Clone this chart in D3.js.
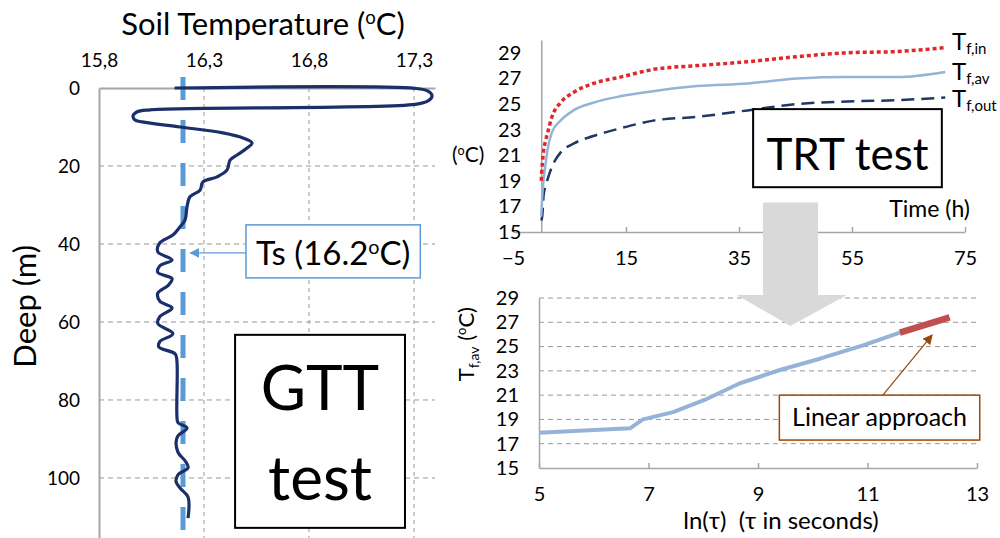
<!DOCTYPE html>
<html>
<head>
<meta charset="utf-8">
<script src="https://cdn.jsdelivr.net/npm/d3@7"></script>
<style>
  body { margin: 0; background: #fff; }
  svg { display: block; }
  text { font-family: Lato, "Open Sans", sans-serif; fill: #000; }
</style>
</head>
<body>
<svg id="fig" width="1000" height="538"></svg>
<script>
// ---- GTT: soil temperature profile along the borehole ----
const gttTicksX = [15.8, 16.3, 16.8, 17.3];
const gttTicksY = [0, 20, 40, 60, 80, 100];
const gttTemp = [16.16, 17.305, 17.367, 17.386, 17.367, 17.305, 16.043, 15.98, 15.962, 15.971, 16.005,
  16.186, 16.39, 16.486, 16.529, 16.505, 16.457, 16.424, 16.41, 16.362, 16.295, 16.281, 16.233, 16.219,
  16.21, 16.186, 16.152, 16.09, 16.08, 16.148, 16.09, 16.08, 16.148, 16.13, 16.08, 16.09, 16.148, 16.09,
  16.08, 16.152, 16.09, 16.085, 16.163, 16.171, 16.171, 16.176, 16.219, 16.176, 16.167, 16.176, 16.214,
  16.224, 16.176, 16.167, 16.186, 16.224, 16.224];
const gttDepth = [0, 0.1, 0.8, 2.05, 3.3, 4.2, 5.6, 6.15, 7.2, 8.2, 8.7,
  10.0, 11.5, 12.8, 14.1, 15.4, 17.2, 18.5, 21.0, 22.8, 24.1, 26.2, 27.9, 30.5,
  33.8, 35.6, 37.7, 39.7, 42.0, 44.1, 45.6, 47.3, 48.9, 50.6, 52.6, 54.7, 56.4, 58.6,
  60.4, 63.0, 65.0, 66.4, 68.2, 70.0, 84.0, 85.8, 87.2, 89.2, 90.8, 93.4, 95.9,
  97.4, 99.2, 101.0, 102.6, 104.9, 110.3];
const tsValue = 16.2;

// ---- TRT: fluid temperatures during the response test ----
const trtTicksX = [-5, 15, 35, 55, 75];
const trtTicksY = [15, 17, 19, 21, 23, 25, 27, 29];
const trtTime = [0, 0.2, 0.4, 0.7, 1.1, 1.9, 3.4, 5.7, 9.2, 14, 19.8, 27.6, 36.5, 45.3, 54.2, 63, 71.5];
const trtIn  = [19.0, 20.4, 21.3, 22.0, 22.7, 24.0, 25.1, 25.9, 26.6, 27.1, 27.7, 28.0, 28.3, 28.7, 29.0, 29.1, 29.4];
const trtAv  = [16.2, 18.0, 19.0, 20.1, 21.4, 22.8, 23.7, 24.5, 25.1, 25.6, 26.0, 26.4, 26.6, 27.0, 27.1, 27.1, 27.5];
const trtOut = [15.9, 16.3, 17.8, 18.5, 19.1, 20.1, 21.2, 21.9, 22.5, 23.1, 23.7, 24.0, 24.5, 25.0, 25.2, 25.3, 25.5];

// ---- Mean fluid temperature against ln(time) ----
const lnTicksX = [5, 7, 9, 11, 13];
const lnTicksY = [15, 17, 19, 21, 23, 25, 27, 29];
const lnTau  = [5.0, 6.66, 6.9, 7.45, 8.07, 8.67, 9.4, 10.13, 10.92, 11.59];
const lnTfav = [17.9, 18.27, 19.0, 19.6, 20.7, 21.98, 23.07, 24.0, 25.1, 26.14];
const linTau  = [11.59, 12.5];
const linTfav = [26.14, 27.4];

const svg = d3.select("#fig");
const AXIS = "#a6a6a6", GRID = "#9a9a9a";

// arrowhead markers
const defs = svg.append("defs");
function marker(id, color) {
  defs.append("marker").attr("id", id).attr("viewBox", "0 0 10 10")
    .attr("refX", 9).attr("refY", 5).attr("markerWidth", 10).attr("markerHeight", 10)
    .attr("markerUnits", "userSpaceOnUse").attr("orient", "auto")
    .append("path").attr("d", "M0,0 L10,5 L0,10 z").attr("fill", color);
}
marker("arrBlue", "#5b9bd5");
marker("arrBrown", "#984807");

// text with a superscript "o" before C
function degree(sel, before, size, after) {
  sel.append("tspan").text(before);
  sel.append("tspan").attr("font-size", size * 0.6).attr("dy", -size * 0.36).text("o");
  sel.append("tspan").attr("dy", size * 0.36).text(after);
}

/* ================= GTT panel ================= */
const xG = d3.scaleLinear().domain([15.8, 17.4]).range([99, 435]);
const yG = d3.scaleLinear().domain([0, 115.4]).range([88, 538]);

const gG = svg.append("g");
// grid
gG.append("g").selectAll("line").data(gttTicksX.slice(1)).join("line")
  .attr("x1", d => xG(d)).attr("x2", d => xG(d)).attr("y1", yG(0)).attr("y2", yG(115.4))
  .attr("stroke", GRID).attr("stroke-width", 1).attr("stroke-dasharray", "4,4");
gG.append("g").selectAll("line").data(gttTicksY.slice(1)).join("line")
  .attr("x1", xG(15.8)).attr("x2", xG(17.4)).attr("y1", d => yG(d)).attr("y2", d => yG(d))
  .attr("stroke", GRID).attr("stroke-width", 1).attr("stroke-dasharray", "5,4");

// axes
const axTop = gG.append("g").attr("transform", `translate(0,${yG(0)})`)
  .call(d3.axisTop(xG).tickValues(gttTicksX).tickSize(0).tickPadding(21)
    .tickFormat(d => d3.format(".1f")(d).replace(".", ",")));
const axLeft = gG.append("g").attr("transform", `translate(${xG(15.8)},0)`)
  .call(d3.axisLeft(yG).tickValues(gttTicksY).tickSize(0).tickPadding(19));
[axTop, axLeft].forEach(a => {
  a.select(".domain").attr("stroke", AXIS).attr("stroke-width", 2);
  a.selectAll("text").attr("font-family", "Lato, sans-serif").attr("font-size", 19).attr("fill", "#222");
});

// Ts line
gG.append("line").attr("x1", xG(tsValue)).attr("x2", xG(tsValue))
  .attr("y1", yG(-2.8)).attr("y2", yG(115.4))
  .attr("stroke", "#5b9bd5").attr("stroke-width", 5).attr("stroke-dasharray", "23,20");

// profile
const gttPts = gttTemp.map((t, i) => ({ t, d: gttDepth[i] }));
gG.append("path").datum(gttPts)
  .attr("d", d3.line().x(p => xG(p.t)).y(p => yG(p.d)).curve(d3.curveCatmullRom.alpha(0.5)))
  .attr("fill", "none").attr("stroke", "#1b2f6b").attr("stroke-width", 3.2)
  .attr("stroke-linejoin", "round");

// titles
degree(svg.append("text").attr("x", 263).attr("y", 35).attr("text-anchor", "middle")
  .attr("font-size", 31), "Soil Temperature (", 31, "C)");
svg.append("text").attr("transform", `translate(36,${yG(56)}) rotate(-90)`)
  .attr("text-anchor", "middle").attr("font-size", 31).text("Deep (m)");

// Ts callout
gG.append("rect").attr("x", xG(16.5)).attr("y", yG(35.1))
  .attr("width", xG(17.33) - xG(16.5)).attr("height", yG(48.7) - yG(35.1))
  .attr("fill", "#fff").attr("stroke", "#5b9bd5").attr("stroke-width", 1.5);
gG.append("line").attr("x1", xG(16.5)).attr("y1", yG(42.3)).attr("x2", xG(16.235)).attr("y2", yG(42.3))
  .attr("stroke", "#5b9bd5").attr("stroke-width", 1.2).attr("marker-end", "url(#arrBlue)");
degree(gG.append("text").attr("x", (xG(16.5) + xG(17.33)) / 2).attr("y", yG(45.5))
  .attr("text-anchor", "middle").attr("font-size", 33), "Ts (16.2", 33, "C)");

// GTT box
gG.append("rect").attr("x", xG(16.448)).attr("y", yG(63.3))
  .attr("width", xG(17.257) - xG(16.448)).attr("height", yG(112.8) - yG(63.3))
  .attr("fill", "#fff").attr("stroke", "#000").attr("stroke-width", 2);
gG.append("text").attr("x", (xG(16.448) + xG(17.257)) / 2).attr("y", 410)
  .attr("text-anchor", "middle").attr("font-size", 62).text("GTT");
gG.append("text").attr("x", (xG(16.448) + xG(17.257)) / 2).attr("y", 500)
  .attr("text-anchor", "middle").attr("font-size", 62).text("test");

/* ================= TRT panel ================= */
const xT = d3.scaleLinear().domain([-5, 75]).range([513, 965]);
const yT = d3.scaleLinear().domain([15, 30]).range([232, 40]);
const gT = svg.append("g");

const axTB = gT.append("g").attr("transform", `translate(0,${yT(15)})`)
  .call(d3.axisBottom(xT).tickValues(trtTicksX).tickSizeInner(-5).tickSizeOuter(0).tickPadding(19));
const axTL = gT.append("g").attr("transform", `translate(${xT(0)},0)`)
  .call(d3.axisLeft(yT).tickValues(trtTicksY).tickSize(0).tickPadding(20));
[axTB, axTL].forEach(a => {
  a.select(".domain").attr("stroke", AXIS).attr("stroke-width", 1.5);
  a.selectAll(".tick line").attr("stroke", AXIS).attr("stroke-width", 1.5);
  a.selectAll("text").attr("font-family", "Lato, sans-serif").attr("font-size", 20).attr("fill", "#222");
});

const lineT = vals => d3.line().x((d, i) => xT(trtTime[i])).y(d => yT(d)).curve(d3.curveMonotoneX)(vals);
gT.append("path").attr("d", lineT(trtOut)).attr("fill", "none")
  .attr("stroke", "#1f3864").attr("stroke-width", 2.5).attr("stroke-dasharray", "13,7");
gT.append("path").attr("d", lineT(trtAv)).attr("fill", "none")
  .attr("stroke", "#95b3d7").attr("stroke-width", 2.5);
gT.append("path").attr("d", lineT(trtIn)).attr("fill", "none")
  .attr("stroke", "#e0282a").attr("stroke-width", 3.5).attr("stroke-dasharray", "4,3");

// series labels
function seriesLabel(y, sub) {
  const t = gT.append("text").attr("x", 952).attr("y", y).attr("font-size", 24);
  t.append("tspan").text("T");
  t.append("tspan").attr("font-size", 15).attr("dy", 4).text(sub);
}
seriesLabel(50, "f,in");
seriesLabel(80, "f,av");
seriesLabel(107, "f,out");

degree(gT.append("text").attr("x", 452).attr("y", yT(21) + 7).attr("font-size", 21), "(", 21, "C)");
gT.append("text").attr("x", xT(75) + 5).attr("y", yT(16.2)).attr("text-anchor", "end")
  .attr("font-size", 23).text("Time (h)");

// TRT box
gT.append("rect").attr("x", xT(37.5)).attr("y", yT(24.6))
  .attr("width", xT(70.9) - xT(37.5)).attr("height", yT(18.5) - yT(24.6))
  .attr("fill", "#fff").attr("stroke", "#000").attr("stroke-width", 2);
gT.append("text").attr("x", (xT(37.5) + xT(70.9)) / 2).attr("y", yT(19.85))
  .attr("text-anchor", "middle").attr("font-size", 44).text("TRT test");

/* ================= ln(t) panel ================= */
const xB = d3.scaleLinear().domain([5, 13]).range([539, 977]);
const yB = d3.scaleLinear().domain([15, 29]).range([468, 298]);
const gB = svg.append("g");

gB.append("g").selectAll("line").data(lnTicksY.slice(1)).join("line")
  .attr("x1", xB(5)).attr("x2", xB(13)).attr("y1", d => yB(d)).attr("y2", d => yB(d))
  .attr("stroke", GRID).attr("stroke-width", 1).attr("stroke-dasharray", "5,4");

const axBB = gB.append("g").attr("transform", `translate(0,${yB(15)})`)
  .call(d3.axisBottom(xB).tickValues(lnTicksX).tickSizeInner(-5).tickSizeOuter(0).tickPadding(19));
const axBL = gB.append("g").attr("transform", `translate(${xB(5)},0)`)
  .call(d3.axisLeft(yB).tickValues(lnTicksY).tickSize(0).tickPadding(20));
[axBB, axBL].forEach(a => {
  a.select(".domain").attr("stroke", AXIS).attr("stroke-width", 1.5);
  a.selectAll(".tick line").attr("stroke", AXIS).attr("stroke-width", 1.5);
  a.selectAll("text").attr("font-family", "Lato, sans-serif").attr("font-size", 20).attr("fill", "#222");
});

gB.append("path")
  .attr("d", d3.line().x((d, i) => xB(lnTau[i])).y(d => yB(d))(lnTfav))
  .attr("fill", "none").attr("stroke", "#95b3d7").attr("stroke-width", 4).attr("stroke-linejoin", "round");
gB.append("path")
  .attr("d", d3.line().x((d, i) => xB(linTau[i])).y(d => yB(d))(linTfav))
  .attr("fill", "none").attr("stroke", "#c0504d").attr("stroke-width", 6.5);

gB.append("text").attr("x", 781).attr("y", 529).attr("text-anchor", "middle")
  .attr("font-size", 24).attr("xml:space", "preserve").text("ln(\u03c4)  (\u03c4 in seconds)");

const yLab = gB.append("text").attr("transform", `translate(474,${yB(25.2)}) rotate(-90)`)
  .attr("text-anchor", "middle").attr("font-size", 22);
yLab.append("tspan").text("T");
yLab.append("tspan").attr("font-size", 14).attr("dy", 5).text("f,av");
yLab.append("tspan").attr("dy", -5).text(" (");
yLab.append("tspan").attr("font-size", 13).attr("dy", -8).text("o");
yLab.append("tspan").attr("dy", 8).text("C)");

// Linear approach callout
gB.append("line").attr("x1", xB(11.28)).attr("y1", yB(21.0)).attr("x2", xB(12.18)).attr("y2", yB(25.95))
  .attr("stroke", "#984807").attr("stroke-width", 1.2).attr("marker-end", "url(#arrBrown)");
gB.append("rect").attr("x", xB(9.39)).attr("y", yB(21.0))
  .attr("width", xB(13.05) - xB(9.39)).attr("height", yB(17.3) - yB(21.0))
  .attr("fill", "#fff").attr("stroke", "#984807").attr("stroke-width", 1.5);
gB.append("text").attr("x", (xB(9.39) + xB(13.05)) / 2).attr("y", yB(18.45))
  .attr("text-anchor", "middle").attr("font-size", 25).text("Linear approach");

// block arrow linking the two right panels
const ax0 = xT(39.25), ax1 = xT(49), axMid = xT(44.1);
const headL = xT(34.6), headR = xT(54.1);
const shaftTop = yT(17.3), headY = yB(29.25), tipY = yB(26.7);
svg.append("path")
  .attr("d", `M${ax0},${shaftTop} L${ax1},${shaftTop} L${ax1},${headY} L${headR},${headY} L${axMid},${tipY} L${headL},${headY} L${ax0},${headY} Z`)
  .attr("fill", "#d9d9d9");
</script>
</body>
</html>
